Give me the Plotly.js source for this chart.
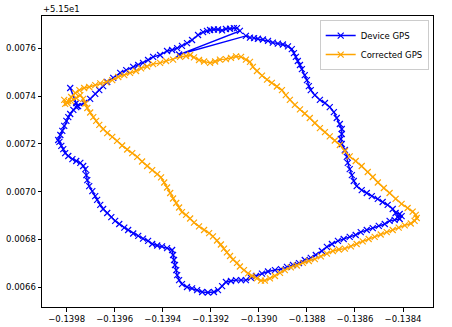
<!DOCTYPE html>
<html>
<head>
<meta charset="utf-8">
<script src="https://cdn.plot.ly/plotly-3.0.1.min.js"></script>
<style>html,body{margin:0;padding:0;background:#fff;}#chart{width:452px;height:327px;}</style>
</head>
<body>
<div id="chart"></div>
<script>
const LAT_BASE = 51.5;

const deviceLon = [
-0.139756,-0.139785,-0.139760,-0.139752,-0.139727,-0.139702,-0.139681,-0.139664,-0.139648,-0.139631,
-0.139606,-0.139577,-0.139552,-0.139523,-0.139502,-0.139482,-0.139461,-0.139440,-0.139411,-0.139382,
-0.139361,-0.139340,-0.139320,-0.139299,-0.139278,-0.139253,-0.139232,-0.139216,-0.139203,-0.139187,
-0.139170,-0.139153,-0.139137,-0.139120,-0.139104,-0.139091,-0.139079,-0.139332,-0.139054,-0.139037,
-0.139020,-0.139004,-0.138983,-0.138962,-0.138942,-0.138921,-0.138900,-0.138879,-0.138863,-0.138854,
-0.138846,-0.138838,-0.138829,-0.138821,-0.138809,-0.138800,-0.138792,-0.138784,-0.138767,-0.138746,
-0.138725,-0.138705,-0.138688,-0.138676,-0.138663,-0.138655,-0.138655,-0.138659,-0.138655,-0.138642,
-0.138634,-0.138630,-0.138622,-0.138613,-0.138605,-0.138593,-0.138572,-0.138551,-0.138530,-0.138505,
-0.138485,-0.138464,-0.138443,-0.138431,-0.138414,-0.138406,-0.138422,-0.138414,-0.138435,-0.138456,
-0.138476,-0.138501,-0.138526,-0.138551,-0.138576,-0.138597,-0.138622,-0.138647,-0.138671,-0.138696,
-0.138717,-0.138738,-0.138763,-0.138784,-0.138809,-0.138833,-0.138858,-0.138883,-0.138908,-0.138933,
-0.138962,-0.138987,-0.139012,-0.139033,-0.139054,-0.139074,-0.139095,-0.139116,-0.139137,-0.139153,
-0.139170,-0.139187,-0.139212,-0.139236,-0.139257,-0.139278,-0.139299,-0.139320,-0.139332,-0.139340,
-0.139344,-0.139349,-0.139353,-0.139357,-0.139361,-0.139382,-0.139403,-0.139423,-0.139444,-0.139461,
-0.139482,-0.139502,-0.139523,-0.139544,-0.139560,-0.139581,-0.139598,-0.139614,-0.139631,-0.139648,
-0.139660,-0.139673,-0.139681,-0.139693,-0.139706,-0.139714,-0.139718,-0.139722,-0.139731,-0.139743,
-0.139760,-0.139776,-0.139793,-0.139806,-0.139814,-0.139822,-0.139830,-0.139835,-0.139826,-0.139818,
-0.139810,-0.139801,-0.139793,-0.139785,-0.139772,-0.139760
];
const deviceLatOffset = [
0.007358,0.007434,0.007371,0.007358,0.007371,0.007388,0.007409,0.007425,0.007442,0.007459,
0.007476,0.007497,0.007509,0.007522,0.007530,0.007539,0.007551,0.007564,0.007572,0.007589,
0.007593,0.007601,0.007610,0.007622,0.007635,0.007656,0.007668,0.007673,0.007677,0.007679,
0.007679,0.007675,0.007681,0.007682,0.007685,0.007685,0.007673,0.007574,0.007652,0.007645,
0.007643,0.007640,0.007637,0.007631,0.007624,0.007620,0.007616,0.007608,0.007597,0.007580,
0.007564,0.007547,0.007530,0.007513,0.007488,0.007467,0.007442,0.007425,0.007404,0.007384,
0.007371,0.007354,0.007333,0.007308,0.007283,0.007262,0.007241,0.007220,0.007199,0.007174,
0.007145,0.007120,0.007094,0.007069,0.007044,0.007023,0.007006,0.006994,0.006981,0.006969,
0.006956,0.006944,0.006927,0.006910,0.006906,0.006897,0.006893,0.006885,0.006881,0.006877,
0.006864,0.006856,0.006847,0.006839,0.006830,0.006818,0.006810,0.006801,0.006793,0.006780,
0.006768,0.006751,0.006734,0.006722,0.006713,0.006700,0.006692,0.006684,0.006675,0.006671,
0.006665,0.006656,0.006646,0.006638,0.006629,0.006629,0.006629,0.006625,0.006621,0.006604,
0.006587,0.006579,0.006577,0.006579,0.006587,0.006594,0.006600,0.006612,0.006629,0.006650,
0.006671,0.006692,0.006713,0.006734,0.006755,0.006763,0.006770,0.006774,0.006780,0.006793,
0.006803,0.006814,0.006824,0.006839,0.006849,0.006864,0.006877,0.006893,0.006910,0.006927,
0.006944,0.006965,0.006981,0.007002,0.007023,0.007048,0.007069,0.007094,0.007107,0.007120,
0.007128,0.007136,0.007149,0.007161,0.007178,0.007191,0.007208,0.007216,0.007237,0.007254,
0.007275,0.007296,0.007312,0.007325,0.007342,0.007354
];

const correctedLon = [
-0.139810,-0.139806,-0.139793,-0.139781,-0.139764,-0.139747,-0.139727,-0.139706,-0.139681,-0.139660,
-0.139635,-0.139610,-0.139585,-0.139560,-0.139536,-0.139511,-0.139490,-0.139465,-0.139440,-0.139411,
-0.139386,-0.139357,-0.139328,-0.139303,-0.139286,-0.139270,-0.139249,-0.139228,-0.139203,-0.139182,
-0.139162,-0.139137,-0.139116,-0.139095,-0.139074,-0.139054,-0.139037,-0.139025,-0.139008,-0.138987,
-0.138966,-0.138946,-0.138925,-0.138904,-0.138888,-0.138871,-0.138850,-0.138829,-0.138809,-0.138788,
-0.138767,-0.138746,-0.138725,-0.138705,-0.138684,-0.138663,-0.138642,-0.138622,-0.138597,-0.138572,
-0.138547,-0.138526,-0.138505,-0.138480,-0.138456,-0.138431,-0.138406,-0.138381,-0.138360,-0.138347,
-0.138343,-0.138352,-0.138368,-0.138393,-0.138418,-0.138443,-0.138468,-0.138493,-0.138518,-0.138543,
-0.138568,-0.138593,-0.138617,-0.138642,-0.138667,-0.138692,-0.138717,-0.138742,-0.138767,-0.138792,
-0.138817,-0.138842,-0.138867,-0.138892,-0.138912,-0.138933,-0.138954,-0.138975,-0.138991,-0.139008,
-0.139029,-0.139045,-0.139062,-0.139079,-0.139091,-0.139108,-0.139120,-0.139133,-0.139145,-0.139158,
-0.139174,-0.139191,-0.139207,-0.139228,-0.139249,-0.139270,-0.139286,-0.139303,-0.139320,-0.139332,
-0.139344,-0.139357,-0.139369,-0.139382,-0.139394,-0.139407,-0.139423,-0.139444,-0.139465,-0.139486,
-0.139506,-0.139527,-0.139548,-0.139569,-0.139590,-0.139610,-0.139631,-0.139648,-0.139664,-0.139677,
-0.139689,-0.139702,-0.139714,-0.139722,-0.139731,-0.139743,-0.139760,-0.139781,-0.139797
];
const correctedLatOffset = [
0.007384,0.007367,0.007379,0.007396,0.007413,0.007425,0.007434,0.007438,0.007446,0.007453,
0.007459,0.007467,0.007480,0.007488,0.007497,0.007505,0.007516,0.007524,0.007534,0.007539,
0.007547,0.007553,0.007564,0.007568,0.007572,0.007562,0.007551,0.007545,0.007539,0.007545,
0.007553,0.007555,0.007560,0.007566,0.007564,0.007553,0.007543,0.007522,0.007505,0.007486,
0.007469,0.007455,0.007440,0.007425,0.007404,0.007384,0.007363,0.007344,0.007327,0.007308,
0.007287,0.007266,0.007249,0.007231,0.007214,0.007195,0.007170,0.007147,0.007128,0.007107,
0.007082,0.007061,0.007038,0.007015,0.006994,0.006969,0.006948,0.006931,0.006916,0.006902,
0.006889,0.006877,0.006866,0.006858,0.006849,0.006839,0.006830,0.006820,0.006810,0.006801,
0.006791,0.006780,0.006770,0.006761,0.006757,0.006751,0.006740,0.006728,0.006717,0.006709,
0.006701,0.006690,0.006682,0.006671,0.006659,0.006646,0.006636,0.006627,0.006627,0.006636,
0.006646,0.006657,0.006671,0.006686,0.006701,0.006715,0.006730,0.006745,0.006761,0.006778,
0.006795,0.006812,0.006826,0.006839,0.006854,0.006870,0.006887,0.006902,0.006914,0.006933,
0.006952,0.006971,0.006994,0.007017,0.007038,0.007059,0.007073,0.007090,0.007107,0.007126,
0.007145,0.007161,0.007176,0.007193,0.007212,0.007229,0.007245,0.007262,0.007279,0.007296,
0.007312,0.007331,0.007350,0.007369,0.007388,0.007404,0.007392,0.007379,0.007371
];

const xTickVals = [-0.1398,-0.1396,-0.1394,-0.1392,-0.1390,-0.1388,-0.1386,-0.1384];
const xTickText = ['\u22120.1398','\u22120.1396','\u22120.1394','\u22120.1392','\u22120.1390','\u22120.1388','\u22120.1386','\u22120.1384'];
const yTickOffsets = [0.0066,0.0068,0.0070,0.0072,0.0074,0.0076];
const yTickText = ['0.0066','0.0068','0.0070','0.0072','0.0074','0.0076'];
const seriesNames = ['Device GPS','Corrected GPS'];
const offsetLabel = '+5.15e1';

const toLat = arr => arr.map(v => LAT_BASE + v);

const font = {family: 'DejaVu Sans, sans-serif', size: 8.5, color: '#000'};

const traces = [
  {x: deviceLon, y: toLat(deviceLatOffset), name: seriesNames[0], type: 'scatter', mode: 'lines+markers',
   line: {color: '#0000ff', width: 1.4},
   marker: {symbol: 'x-thin', size: 6, line: {color: '#0000ff', width: 1.2}, color: '#0000ff'}},
  {x: correctedLon, y: toLat(correctedLatOffset), name: seriesNames[1], type: 'scatter', mode: 'lines+markers',
   line: {color: '#ffa500', width: 1.4},
   marker: {symbol: 'x-thin', size: 6, line: {color: '#ffa500', width: 1.2}, color: '#ffa500'}}
];

const layout = {
  width: 452, height: 327,
  margin: {l: 42, r: 19, t: 16, b: 20},
  paper_bgcolor: '#fff', plot_bgcolor: '#fff',
  font: font,
  showlegend: true,
  legend: {x: 0.989, y: 0.986, xanchor: 'right', yanchor: 'top', bgcolor: 'rgba(255,255,255,0.8)',
           bordercolor: '#cccccc', borderwidth: 1, font: font, tracegroupgap: 0, itemwidth: 30},
  xaxis: {range: [-0.1399024, -0.1382754], tickvals: xTickVals, ticktext: xTickText,
          showgrid: false, zeroline: false, showline: true, mirror: true, linecolor: '#000', linewidth: 1,
          ticks: 'outside', ticklen: 3.5, tickwidth: 1, tickcolor: '#000', tickfont: font},
  yaxis: {range: [LAT_BASE + 0.0065162, LAT_BASE + 0.0077355], tickvals: toLat(yTickOffsets), ticktext: yTickText,
          showgrid: false, zeroline: false, showline: true, mirror: true, linecolor: '#000', linewidth: 1,
          ticks: 'outside', ticklen: 3.5, tickwidth: 1, tickcolor: '#000', tickfont: font},
  annotations: [{text: offsetLabel, xref: 'paper', yref: 'paper', x: 0, y: 1, xanchor: 'left', yanchor: 'bottom',
                 showarrow: false, font: font, xshift: -1, yshift: 0}]
};

Plotly.newPlot('chart', traces, layout, {displayModeBar: false, staticPlot: true});
</script>
</body>
</html>
